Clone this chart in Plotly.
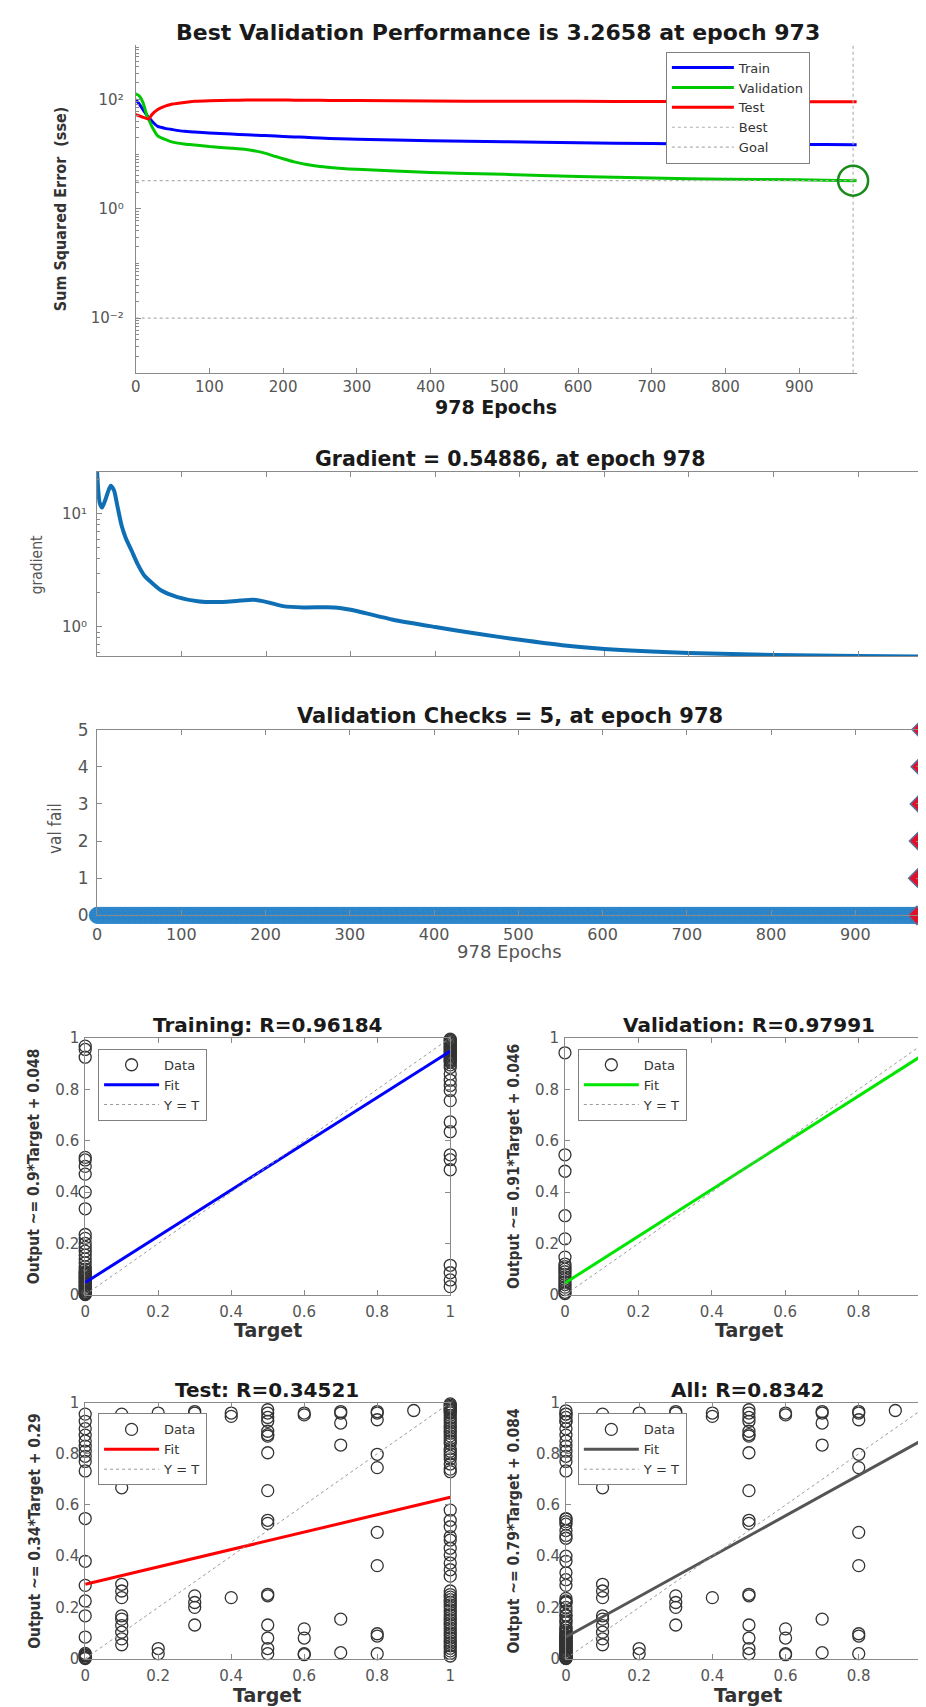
import plotly.graph_objects as go

W, H = 926, 1707


def fx(px):
    return px / W


def fy(px):
    return 1 - px / H


HFONT = "DejaVu Sans"
VFONT = "Liberation Sans Narrow, DejaVu Sans Condensed, Liberation Sans"
TICKC = "#555555"
AXC = "#8a8a8a"

# ---------------- Performance (sse) data ----------------
perf_epochs = [0, 5, 10, 15, 18, 22, 30, 40, 50, 66, 80, 100, 130, 150, 165, 175, 190, 200,
               215, 230, 250, 276, 300, 400, 500, 600, 700, 800, 900, 973, 978]
perf_train = [100, 82, 65, 52, 46, 40, 32, 29.5, 28, 26, 25.2, 24.3, 23.2, 22.5, 22.0, 21.8,
              21.3, 21.0, 20.6, 20.2, 19.6, 19.0, 18.7, 17.5, 16.8, 16.1, 15.6, 15.1, 15.0,
              14.8, 14.8]
perf_val = [127, 115, 87, 52, 42, 32, 21.5, 18.5, 16.5, 15.3, 14.6, 13.7, 12.8, 12.1, 11.2,
            10.4, 9.0, 8.2, 7.2, 6.5, 5.9, 5.5, 5.25, 4.6, 4.25, 3.9, 3.63, 3.47, 3.38,
            3.2658, 3.27]
perf_test = [52.6, 50, 47, 44.5, 44.0, 52.6, 65, 75, 82, 88, 92, 94.5, 96.5, 97, 97, 97, 97,
             97, 96.8, 96.5, 96, 95.6, 95, 93, 92.5, 92, 91.5, 90.8, 90.6, 90.6, 90.6]
best_epoch = 973
best_perf = 3.2658
goal = 0.01
total_epochs = 978
perf_ylim = [1e-3, 1e3]

# ---------------- Gradient data ----------------
grad_epochs = [0, 3, 6, 10, 16, 20, 24, 29, 34, 41, 48, 56, 65, 76, 95, 119, 142, 165, 185,
               201, 220, 244, 280, 300, 350, 400, 450, 500, 550, 600, 700, 800, 900, 978]
grad_vals = [23.7, 12.6, 11.4, 13.5, 17.8, 16.2, 11.8, 7.9, 6.1, 4.7, 3.6, 2.84, 2.45, 2.1,
             1.84, 1.69, 1.66, 1.70, 1.74, 1.66, 1.53, 1.49, 1.49, 1.42, 1.16, 1.0, 0.87,
             0.77, 0.69, 0.64, 0.59, 0.565, 0.555, 0.54886]

# ---------------- Validation checks data ----------------
vc_epochs = list(range(0, 979))
vc_vals = [0] * 974 + [1, 2, 3, 4, 5]

# ---------------- Regression data ----------------
train_out_t0 = [0.968, 0.955, 0.925, 0.535, 0.525, 0.50, 0.47, 0.40, 0.335, 0.235, 0.22, 0.20,
                0.185, 0.17, 0.155, 0.14, 0.125, 0.11, 0.10, 0.09, 0.085, 0.08, 0.075, 0.07,
                0.065, 0.06, 0.055, 0.05, 0.045, 0.04, 0.035, 0.03, 0.025, 0.02, 0.015, 0.01,
                0.008, 0.005, 0.003, 0.001]
train_out_t1 = [0.995, 0.99, 0.985, 0.98, 0.975, 0.97, 0.965, 0.96, 0.955, 0.95, 0.945, 0.94,
                0.935, 0.93, 0.925, 0.92, 0.915, 0.91, 0.905, 0.895, 0.885, 0.86, 0.835, 0.815,
                0.795, 0.756, 0.673, 0.635, 0.545, 0.526, 0.487, 0.115, 0.086, 0.058, 0.032]
val_out_t0 = [0.942, 0.545, 0.481, 0.308, 0.218, 0.147, 0.12, 0.11, 0.10, 0.09, 0.08, 0.07,
              0.06, 0.05, 0.04, 0.03, 0.02, 0.01, 0.005]
val_out_t1 = [0.995, 0.985, 0.975, 0.965, 0.955, 0.945, 0.935, 0.925, 0.915, 0.905, 0.895,
              0.885, 0.737, 0.506, 0.487, 0.051]
test_targets = ([0] * 23 + [0.1] * 11 + [0.2] * 3 + [0.3] * 6 + [0.4] * 3 + [0.5] * 17
                + [0.6] * 6 + [0.7] * 6 + [0.8] * 10 + [0.9] * 1 + [1] * 64)
test_outputs = [
    # target 0
    0.955, 0.927, 0.898, 0.873, 0.85, 0.83, 0.81, 0.79, 0.77, 0.733, 0.547, 0.38, 0.286,
    0.225, 0.167, 0.084, 0.02, 0.013, 0.0, 0.005, 0.01, 0.015, 0.003,
    # target 0.1
    0.955, 0.667, 0.29, 0.264, 0.238, 0.167, 0.154, 0.129, 0.103, 0.077, 0.054,
    # target 0.2
    0.959, 0.039, 0.019,
    # target 0.3
    0.965, 0.959, 0.245, 0.219, 0.2, 0.131,
    # target 0.4
    0.959, 0.946, 0.238,
    # target 0.5
    0.972, 0.959, 0.942, 0.927, 0.888, 0.875, 0.869, 0.804, 0.656, 0.54, 0.528, 0.251, 0.245,
    0.131, 0.08, 0.039, 0.019,
    # target 0.6
    0.959, 0.952, 0.116, 0.08, 0.019, 0.015,
    # target 0.7
    0.965, 0.959, 0.92, 0.834, 0.154, 0.023,
    # target 0.8
    0.965, 0.959, 0.933, 0.798, 0.746, 0.493, 0.363, 0.097, 0.088, 0.019,
    # target 0.9
    0.969,
    # target 1
    0.995, 0.99, 0.985, 0.98, 0.975, 0.97, 0.965, 0.96, 0.95, 0.94, 0.93, 0.92, 0.91, 0.90,
    0.89, 0.88, 0.87, 0.86, 0.85, 0.84, 0.82, 0.81, 0.80, 0.79, 0.78, 0.76, 0.74, 0.73,
    0.58, 0.54, 0.515, 0.476, 0.463, 0.431, 0.405, 0.373, 0.347, 0.322,
    0.264, 0.25, 0.24, 0.23, 0.22, 0.21, 0.2, 0.19, 0.18, 0.17, 0.16, 0.15, 0.14, 0.13,
    0.12, 0.11, 0.10, 0.09, 0.08, 0.07, 0.06, 0.05, 0.04, 0.03, 0.02, 0.01,
]

fit_names = ["Training", "Validation", "Test", "All"]
fit_slopes = [0.9, 0.91, 0.34, 0.79]
fit_intercepts = [0.048, 0.046, 0.29, 0.084]
fit_r = ["0.96184", "0.97991", "0.34521", "0.8342"]
fit_labels = ["0.9", "0.91", "0.34", "0.79"]
fit_int_labels = ["0.048", "0.046", "0.29", "0.084"]
fit_colors = ["#0000ff", "#00e600", "#ff0000", "#555555"]

train_t = [0] * len(train_out_t0) + [1] * len(train_out_t1)
train_o = train_out_t0 + train_out_t1
val_t = [0] * len(val_out_t0) + [1] * len(val_out_t1)
val_o = val_out_t0 + val_out_t1
all_t = train_t + val_t + test_targets
all_o = train_o + val_o + test_outputs
reg_sets = [(train_t, train_o), (val_t, val_o), (test_targets, test_outputs), (all_t, all_o)]

fig = go.Figure()

# ---------------- Performance plot ----------------
fig.add_trace(go.Scatter(x=perf_epochs, y=perf_train, mode="lines", name="Train",
                         line=dict(color="#0000ff", width=3, shape="spline", smoothing=0.6),
                         xaxis="x", yaxis="y"))
fig.add_trace(go.Scatter(x=perf_epochs, y=perf_val, mode="lines", name="Validation",
                         line=dict(color="#00c800", width=3, shape="spline", smoothing=0.6),
                         xaxis="x", yaxis="y"))
fig.add_trace(go.Scatter(x=perf_epochs, y=perf_test, mode="lines", name="Test",
                         line=dict(color="#ff0000", width=3, shape="spline", smoothing=0.6),
                         xaxis="x", yaxis="y"))
fig.add_trace(go.Scatter(x=[0, total_epochs, None, best_epoch, best_epoch],
                         y=[best_perf, best_perf, None, perf_ylim[0], perf_ylim[1]],
                         mode="lines", name="Best",
                         line=dict(color="#b0b0b0", width=1.2, dash="dot"),
                         xaxis="x", yaxis="y"))
fig.add_trace(go.Scatter(x=[0, total_epochs], y=[goal, goal], mode="lines", name="Goal",
                         line=dict(color="#b0b0b0", width=1.2, dash="dot"),
                         xaxis="x", yaxis="y"))
fig.add_trace(go.Scatter(x=[best_epoch], y=[best_perf], mode="markers", showlegend=False,
                         marker=dict(symbol="circle-open", size=30, color="#1a8a1a",
                                     line=dict(width=2.5, color="#1a8a1a")),
                         cliponaxis=False, xaxis="x", yaxis="y"))

# ---------------- Gradient plot ----------------
fig.add_trace(go.Scatter(x=grad_epochs, y=grad_vals, mode="lines", showlegend=False,
                         line=dict(color="#0f6fb5", width=4, shape="spline", smoothing=0.6),
                         xaxis="x2", yaxis="y2"))

# ---------------- Validation checks plot ----------------
zero_x = [e for e, v in zip(vc_epochs, vc_vals) if e <= best_epoch]
zero_y = [v for e, v in zip(vc_epochs, vc_vals) if e <= best_epoch]
last_x = [e for e in vc_epochs if e >= best_epoch]
last_y = [v for e, v in zip(vc_epochs, vc_vals) if e >= best_epoch]
fig.add_trace(go.Scatter(x=zero_x, y=zero_y, mode="markers", showlegend=False,
                         marker=dict(symbol="circle", size=16, color="#0b6db5",
                                     line=dict(width=0.8, color="#3a8fd0")),
                         cliponaxis=False, xaxis="x3", yaxis="y3"))
fig.add_trace(go.Scatter(x=last_x, y=last_y, mode="markers", showlegend=False,
                         marker=dict(symbol="diamond", size=14, color="#e0102a",
                                     line=dict(width=1.5, color="#5a6f9a")),
                         cliponaxis=False, xaxis="x3", yaxis="y3"))

# ---------------- Regression plots ----------------
reg_axes = [("x4", "y4", "legend2"), ("x5", "y5", "legend3"),
            ("x6", "y6", "legend4"), ("x7", "y7", "legend5")]
for i, ((tx, ty), (xa, ya, lg)) in enumerate(zip(reg_sets, reg_axes)):
    fig.add_trace(go.Scatter(x=tx, y=ty, mode="markers", name="Data", legend=lg,
                             marker=dict(symbol="circle-open", size=12, color="#333333",
                                         line=dict(width=1.3, color="#333333")),
                             cliponaxis=False, xaxis=xa, yaxis=ya))
    fig.add_trace(go.Scatter(x=[0, 1], y=[fit_intercepts[i], fit_slopes[i] + fit_intercepts[i]],
                             mode="lines", name="Fit", legend=lg,
                             line=dict(color=fit_colors[i], width=3),
                             xaxis=xa, yaxis=ya))
    fig.add_trace(go.Scatter(x=[0, 1], y=[0, 1], mode="lines", name="Y = T", legend=lg,
                             line=dict(color="#9a9a9a", width=1, dash="dot"),
                             xaxis=xa, yaxis=ya))

# ---------------- Axes ----------------
tickfont = dict(family=HFONT, size=15, color=TICKC)
common = dict(showline=True, linecolor=AXC, linewidth=1, ticks="inside", tickcolor=AXC,
              ticklen=5, showgrid=False, zeroline=False, tickfont=tickfont)

perf_major = [1e-2, 1, 1e2]
perf_major_text = ["10\u207b\u00b2", "10\u2070", "10\u00b2"]
grad_major = [1, 10]
grad_major_text = ["10\u2070", "10\u00b9"]
minor_perf = [m * d for d in [1e-3, 1e-2, 1e-1, 1, 1e1, 1e2] for m in range(2, 10)]
minor_perf += [1e-3, 1e-1, 1e1, 1e3]
minor_grad = [m * d for d in [0.1, 1, 10] for m in range(2, 10)]
epoch_ticks = list(range(0, 1000, 100))

layout_axes = dict(
    xaxis=dict(domain=[fx(124), fx(853)], range=[0, total_epochs], anchor="y",
               tickmode="array", tickvals=epoch_ticks, **common),
    yaxis=dict(domain=[fy(359), fy(27)], type="log", range=[-3, 3], anchor="x",
               tickmode="array", tickvals=perf_major, ticktext=perf_major_text,
               minor=dict(tickvals=minor_perf, ticks="inside", ticklen=3, tickcolor=AXC),
               ticklabelstandoff=8, **common),
    xaxis2=dict(domain=[fx(85), fx(921)], range=[0, total_epochs], anchor="y2",
                tickmode="array", tickvals=[], showticklabels=False, mirror="ticks",
                minor=dict(tickvals=epoch_ticks, ticks="inside", ticklen=5, tickcolor=AXC),
                **common),
    yaxis2=dict(domain=[fy(646), fy(459)], type="log", anchor="x2",
                range=[-0.2605, 1.3747], tickmode="array", tickvals=grad_major,
                ticktext=grad_major_text, mirror="ticks",
                minor=dict(tickvals=minor_grad, ticks="inside", ticklen=3, tickcolor=AXC),
                ticklabelstandoff=6, **common),
    xaxis3=dict(domain=[fx(85), fx(918)], range=[0, total_epochs], anchor="y3",
                tickmode="array", tickvals=epoch_ticks, mirror="ticks",
                ticklabelstandoff=4,
                **{**common, "tickfont": dict(family=HFONT, size=16, color=TICKC)}),
    yaxis3=dict(domain=[fy(908), fy(720)], range=[0, 5], anchor="x3", dtick=1,
                mirror="ticks", ticklabelstandoff=4,
                **{**common, "tickfont": dict(family=HFONT, size=17, color=TICKC)}),
)
reg_dom = [
    ([fx(73), fx(442)], [fy(1292), fy(1032)], [0, 1]),
    ([fx(558), 1.0], [fy(1292), fy(1032)], [0, 0.992]),
    ([fx(73), fx(442)], [fy(1660), fy(1401)], [0, 1]),
    ([fx(559), 1.0], [fy(1660), fy(1401)], [0, 0.992]),
]
for k, (xd, yd, xr) in enumerate(reg_dom):
    n = k + 4
    layout_axes[f"xaxis{n}"] = dict(domain=xd, range=xr, anchor=f"y{n}", tickmode="array",
                                    tickvals=[0, 0.2, 0.4, 0.6, 0.8, 1], mirror="ticks",
                                    ticklabelstandoff=3, **common)
    layout_axes[f"yaxis{n}"] = dict(domain=yd, range=[0, 1], anchor=f"x{n}", tickmode="array",
                                    tickvals=[0, 0.2, 0.4, 0.6, 0.8, 1], mirror="ticks",
                                    ticklabelstandoff=2, **common)

# ---------------- Annotations ----------------
ann = []


def text(x, y, s, size, bold=False, angle=0, family=HFONT, color="#1a1a1a"):
    ann.append(dict(x=fx(x), y=fy(y), xref="paper", yref="paper", showarrow=False,
                    text=f"<b>{s}</b>" if bold else s, textangle=angle,
                    font=dict(family=family, size=size, color=color),
                    xanchor="center", yanchor="middle"))


text(490, 15, f"Best Validation Performance is {best_perf} at epoch {best_epoch}", 22, True)
text(488, 394, f"{total_epochs} Epochs", 19, True)
text(48, 193, "Sum Squared Error  (sse)", 16, True, -90, VFONT, "#333333")
text(503, 446, f"Gradient = {grad_vals[-1]}, at epoch {total_epochs}", 20.5, True)
text(24, 553, "gradient", 15.5, False, -90, VFONT, "#555555")
text(502, 706, f"Validation Checks = {vc_vals[-1]}, at epoch {total_epochs}", 21, True)
text(43, 820, "val fail", 17, False, -90, VFONT, "#555555")
text(502, 945, f"{total_epochs} Epochs", 18, False, 0, HFONT, "#555555")

reg_centers = [(258, 1019, 1328, 22, 1162), (744, 1019, 1328, 507, 1162),
               (257, 1388, 1697, 22, 1531), (743, 1388, 1697, 507, 1531)]
for i, (cx, ty, xy, lx, ly) in enumerate(reg_centers):
    text(cx, ty, f"{fit_names[i]}: R={fit_r[i]}", 20, True)
    text(cx, xy, "Target", 19, True, 0, HFONT, "#333333")
    text(lx, ly, f"Output ~= {fit_labels[i]}*Target + {fit_int_labels[i]}", 15.5, True, -90,
         VFONT, "#333333")

legend_common = dict(bgcolor="white", bordercolor="#808080", borderwidth=1,
                     xanchor="left", yanchor="top", itemwidth=55,
                     font=dict(family=HFONT, size=13, color="#333333"),
                     tracegroupgap=0, itemclick=False)

fig.update_layout(
    width=W, height=H, margin=dict(l=0, r=0, t=0, b=0),
    paper_bgcolor="white", plot_bgcolor="white",
    showlegend=True,
    legend=dict(x=fx(660), y=fy(34), **{**legend_common,
                                         "font": dict(family=HFONT, size=13, color="#333333"),
                                         "itemwidth": 62}),
    legend2=dict(x=fx(86), y=fy(1043), **legend_common),
    legend3=dict(x=fx(571), y=fy(1043), **legend_common),
    legend4=dict(x=fx(86), y=fy(1412), **legend_common),
    legend5=dict(x=fx(571), y=fy(1412), **legend_common),
    annotations=ann,
    **layout_axes,
)

fig.write_html("out.html")
